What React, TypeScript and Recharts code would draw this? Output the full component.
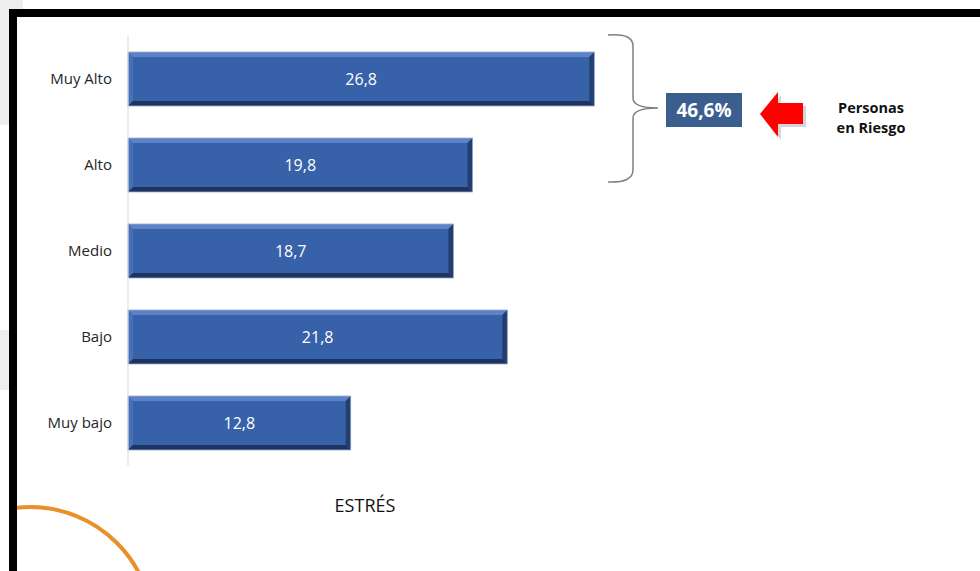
import { BarChart, Bar, XAxis, YAxis, LabelList } from 'recharts';

// Niveles de estrés y porcentaje de personas
const categorias = ['Muy Alto', 'Alto', 'Medio', 'Bajo', 'Muy bajo'];
const porcentajes = [26.8, 19.8, 18.7, 21.8, 12.8];
const enRiesgo = '46,6%';

const chartData = categorias.map((nivel, i) => ({ nivel, valor: porcentajes[i] }));

const fmt = (v: any) => Number(v).toFixed(1).replace('.', ',');

// Barra con efecto biselado
const BevelBar = (props: any) => {
  const { x, y, width: w, height: h } = props;
  if (!w || !h) return null;
  const b = 5;
  return (
    <g>
      <rect x={x} y={y} width={w} height={h} fill="#3761a8" />
      <polygon points={`${x},${y} ${x + w},${y} ${x + w - b},${y + b} ${x + b},${y + b}`} fill="#5c83c8" />
      <polygon points={`${x},${y} ${x + b},${y + b} ${x + b},${y + h - b} ${x},${y + h}`} fill="#4770b8" />
      <polygon points={`${x},${y + h} ${x + w},${y + h} ${x + w - b},${y + h - b} ${x + b},${y + h - b}`} fill="#1d3461" />
      <polygon points={`${x + w},${y} ${x + w},${y + h} ${x + w - b},${y + h - b} ${x + w - b},${y + b}`} fill="#233e70" />
      <rect x={x} y={y} width={w} height={h} fill="none" stroke="#9aaccc" strokeWidth={0.8} />
    </g>
  );
};

export default function App() {
  return (
    <div style={{ position: 'absolute', left: 0, top: 0, width: 980, height: 571, overflow: 'hidden', background: '#ffffff', fontFamily: '"Open Sans", sans-serif' }}>
      {/* fondo de la diapositiva */}
      <svg width={980} height={571} style={{ position: 'absolute', left: 0, top: 0 }}>
        <rect x={0} y={0} width={23} height={9} fill="#efeeec" />
        <rect x={0} y={0} width={9} height={125} fill="#efeeec" />
        <rect x={0} y={330} width={9} height={60} fill="#efeeec" />
      </svg>

      <div style={{ position: 'absolute', left: 0, top: 0 }}>
        <BarChart
          width={980}
          height={571}
          data={chartData}
          layout="vertical"
          barSize={54}
          margin={{ top: 36, right: 330, left: 0, bottom: 105 }}
        >
          <XAxis type="number" domain={[0, 30]} hide />
          <YAxis
            type="category"
            dataKey="nivel"
            width={128}
            axisLine={{ stroke: '#d9d9d9' }}
            tickLine={false}
            tickMargin={10}
            tick={{ fill: '#262626', fontSize: 15, fontFamily: '"Open Sans", sans-serif' }}
          />
          <Bar dataKey="valor" shape={<BevelBar />} isAnimationActive={false}>
            <LabelList
              dataKey="valor"
              position="center"
              formatter={fmt}
              fill="#ffffff"
              fontSize={16}
              fontFamily='"Open Sans", sans-serif'
            />
          </Bar>
        </BarChart>
      </div>

      {/* anotaciones */}
      <svg width={980} height={571} style={{ position: 'absolute', left: 0, top: 0, pointerEvents: 'none' }}>
        <defs>
          <clipPath id="slide">
            <rect x={17} y={17} width={963} height={554} />
          </clipPath>
        </defs>
        <text x={478} y={-7} textAnchor="middle" fontSize={24} fontWeight="bold" fill="#000">g</text>

        <circle cx={30} cy={630} r={123} fill="none" stroke="#e8912a" strokeWidth={4} clipPath="url(#slide)" />
        <rect x={9} y={9} width={971} height={8} fill="#000" />
        <rect x={9} y={9} width={8} height={562} fill="#000" />

        <path
          d="M 608 35 Q 633 33 633 46 L 633 98 Q 633 108 658 108 Q 633 108 633 118 L 633 170 Q 633 183 608 182"
          fill="none"
          stroke="#808080"
          strokeWidth={1.5}
        />

        <rect x={666} y={93} width={76} height={34} fill="#3a5f8f" />
        <text x={704} y={117} textAnchor="middle" fontSize={19} fontWeight="bold" fill="#ffffff">{enRiesgo}</text>

        <polygon points="763,117 781,95 781,106 806,106 806,127 781,127 781,140" fill="#b8b8c8" opacity={0.6} />
        <polygon points="760,114 778,92 778,103 803,103 803,124 778,124 778,137" fill="#ff0000" />

        <text x={871} y={113} textAnchor="middle" fontSize={14.5} fontWeight="bold" fill="#111">Personas</text>
        <text x={871} y={133} textAnchor="middle" fontSize={14.5} fontWeight="bold" fill="#111">en Riesgo</text>

        <text x={365} y={512} textAnchor="middle" fontSize={18} fill="#111">ESTRÉS</text>
      </svg>
    </div>
  );
}
